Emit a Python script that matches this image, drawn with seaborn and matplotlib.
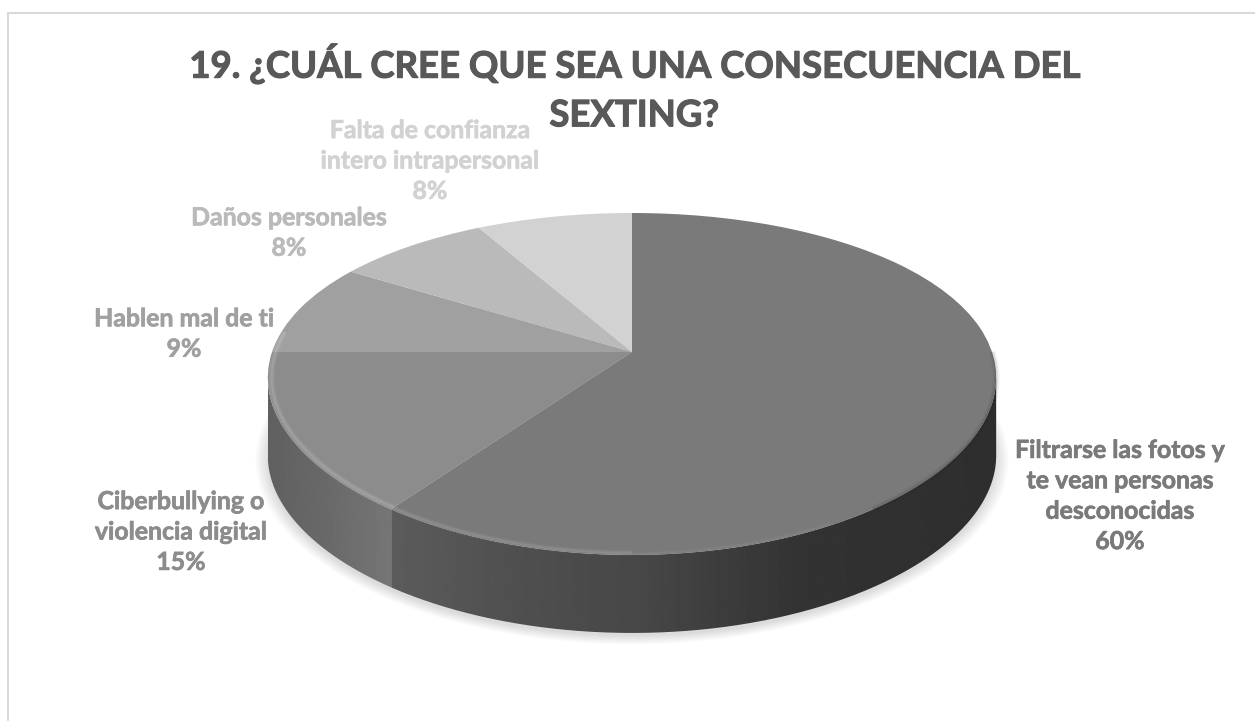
import numpy as np
import matplotlib
matplotlib.use("Agg")
import matplotlib.pyplot as plt
import matplotlib.patheffects as pe
import seaborn as sns
from matplotlib.transforms import Transform
from matplotlib.path import Path
from matplotlib.patches import PathPatch

sns.set_theme(style="white")
plt.rcParams['font.family'] = ['Lato', 'DejaVu Sans']

TITLE = "19. ¿CUÁL CREE QUE SEA UNA CONSECUENCIA DEL\nSEXTING?"
categories = ["Filtrarse las fotos y\nte vean personas\ndesconocidas",
              "Ciberbullying o\nviolencia digital",
              "Hablen mal de ti",
              "Daños personales",
              "Falta de confianza\nintero intrapersonal"]
values = [60, 15, 9, 8, 8]
top_colors = ["#7a7a7a", "#8c8c8c", "#a0a0a0", "#bababa", "#d2d2d2"]
label_colors = ["#7a7a7a", "#8c8c8c", "#a0a0a0", "#bababa", "#d2d2d2"]
label_pos = [(1120, 496), (181, 532), (184, 334), (289, 233), (430, 161)]

CX, CY, A, B, KX, KY, DEPTH = 632.0, 352.0, 360.0, 165.0, 0.151, 0.187, 78.0
W, H = 1255, 721


class Persp(Transform):
    input_dims = output_dims = 2
    is_separable = False
    has_inverse = False

    def __init__(self, dy=0.0):
        super().__init__()
        self.dy = dy

    def transform_non_affine(self, xy):
        xy = np.asarray(xy, float)
        return np.column_stack([CX + A * xy[:, 0] / (1 + KX * xy[:, 1]),
                                CY + self.dy - B * xy[:, 1] / (1 + KY * xy[:, 1])])


fig = plt.figure(figsize=(W / 100, H / 100), dpi=100)
ax = fig.add_axes([0, 0, 1, 1])
fig.patch.set_facecolor("white")


def rim(f0, f1, n=120):
    t = 2 * np.pi * np.linspace(f0, f1, n)
    return np.column_stack([np.sin(t), np.cos(t)])


def to_px(pts, dy=0.0):
    return Persp(dy).transform_non_affine(pts)


# soft shadow under the disc
for grow in np.linspace(1.0, 1.034, 12):
    p = to_px(rim(0, 1, 240) * grow, DEPTH + 3)
    ax.add_patch(PathPatch(Path(p), fc="black", ec="none", alpha=.011, zorder=1))

# side wall with a gradient across it
stops_x = [268, 330, 391, 392, 520, 640, 800, 900, 1000]
stops_v = [.376, .415, .46, .36, .31, .28, .20, .19, .18]
front = rim(.25, .75, 500)
front = front[front[:, 1] <= -KX]
wall = np.vstack([to_px(front), to_px(front, DEPTH)[::-1]])
xs = np.linspace(268, 998, 731)
grad = np.interp(xs, stops_x, stops_v)[None, :]
im = ax.imshow(grad, cmap="gray", vmin=0, vmax=1, extent=(268, 998, H, 0),
               aspect="auto", zorder=2)
clip = PathPatch(Path(wall), transform=ax.transData, fc="none", ec="none")
ax.add_patch(clip)
im.set_clip_path(clip)

res = ax.pie(values, colors=top_colors, startangle=90, counterclock=False,
             radius=1, frame=False, wedgeprops=dict(linewidth=0, zorder=4))
ax.set_aspect("auto")
ax.set_xlim(0, W)
ax.set_ylim(H, 0)
ax.axis("off")
base = Persp() + ax.transData
for wd in res[0]:
    wd.set_transform(base)
    wd.set_zorder(4)
    wd.set_clip_on(False)


def glow(f0, f1, scale, color, strokes):
    p = to_px(rim(f0, f1, 200) * scale)
    for lw, al in strokes:
        ax.plot(p[:, 0], p[:, 1], color=color, lw=lw, alpha=al, zorder=5,
                solid_capstyle="butt")


# bevel: light band on the front left, soft dark edge on the front right
glow(.60, .77, .990, "white", [(4.5, .05), (3, .06), (1.5, .08)])
glow(.50, .60, .992, "white", [(4, .04), (2.5, .05), (1.2, .06)])
glow(.42, .50, .994, "white", [(3, .02), (1.5, .03)])
glow(.25, .40, 1.0, "#202020", [(5, .05), (3, .07), (1.5, .09)])

# frame: only the top and left sides show
ax.plot([8, 8, W], [H - 1, 13, 13], color="#d9d9d9", lw=1.5, zorder=0,
        solid_joinstyle="miter")

ax.text(634, 88, TITLE, ha="center", va="center", fontsize=26.3, fontweight="bold",
        color="#595959", linespacing=1.58, zorder=7,
        path_effects=[pe.withStroke(linewidth=0.8, foreground="#595959")])

for cat, val, col, (x, y) in zip(categories, values, label_colors, label_pos):
    ax.text(x, y, f"{cat}\n{val}%", ha="center", va="center", fontsize=17.9,
            fontweight="bold", color=col, linespacing=1.39, zorder=7,
            path_effects=[pe.withStroke(linewidth=0.5, foreground=col)])

fig.savefig("out.png", dpi=100)
